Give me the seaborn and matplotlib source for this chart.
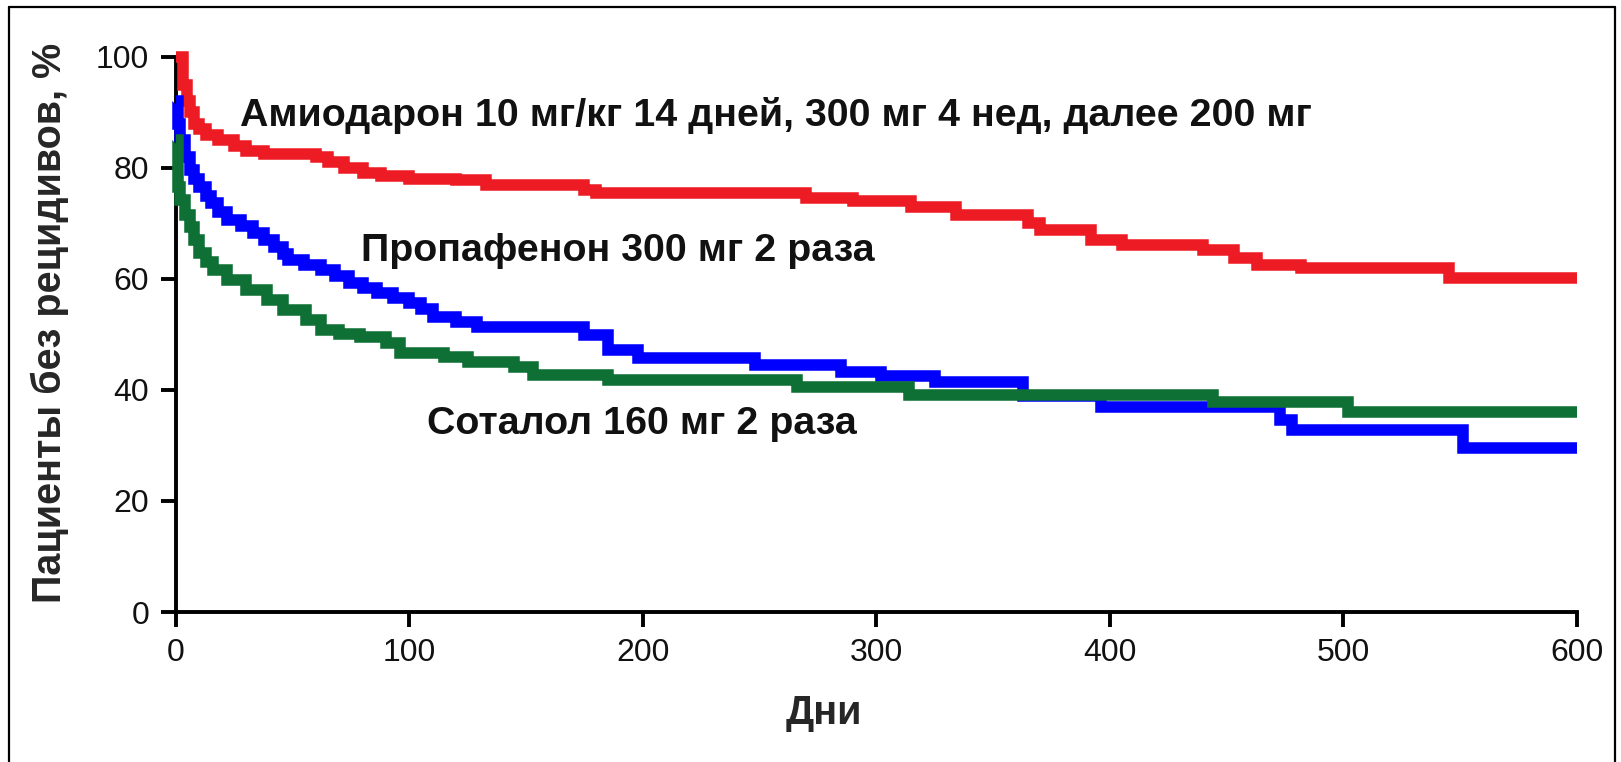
import numpy as np
import pandas as pd
import matplotlib
matplotlib.use("Agg")
import matplotlib.pyplot as plt
import seaborn as sns
from matplotlib.lines import Line2D

# ---- data ----
amio_days = [0, 3, 5, 6, 8, 10, 13, 18, 25, 30, 38, 60, 65, 72, 80, 88, 100, 120, 133,
             175, 180, 270, 290, 315, 334, 365, 370, 392, 405, 440, 453, 463, 482, 545, 600]
amio_vals = [100, 95, 92, 90, 88, 87, 86, 85, 84, 83, 82.5, 82, 81, 80, 79, 78.5, 78, 77.8, 77,
             76, 75.5, 74.5, 74, 73, 71.5, 70, 68.8, 67, 66.1, 65.2, 63.8, 62.5, 62, 60.2, 60.2]

prop_days = [0, 1, 2, 4, 6, 8, 10, 13, 15, 18, 22, 28, 33, 38, 42, 46, 48, 55, 62, 68, 74,
             80, 86, 93, 100, 105, 110, 120, 129, 175, 185, 198, 248, 285, 302, 325, 363,
             396, 473, 478, 551, 600]
prop_vals = [92, 88, 85, 82, 79.6, 78, 76.6, 75, 73.7, 72, 70.6, 69.5, 68.3, 67, 65.8, 64.5,
             63.4, 62.5, 61.6, 60.5, 59.3, 58.3, 57.5, 56.5, 55.7, 54.5, 53.2, 52.3, 51.4,
             49.9, 47.2, 45.8, 44.5, 43.2, 42.5, 41.4, 39, 36.9, 34.6, 32.8, 29.5, 29.5]

sota_days = [0, 1, 2, 4, 6, 8, 10, 13, 16, 22, 30, 39, 46, 56, 62, 70, 79, 90, 96, 115, 125,
             145, 153, 185, 266, 314, 444, 502, 600]
sota_vals = [85, 76.6, 74.2, 71.5, 69.4, 67, 64.7, 63, 61.6, 59.8, 58, 56.2, 54.4, 52.6, 50.8,
             50, 49.5, 48.5, 46.7, 45.9, 45, 44.1, 42.7, 41.8, 40.5, 39.1, 37.8, 36, 36]

group_names = ["Амиодарон", "Пропафенон", "Соталол"]
labels = ["Амиодарон 10 мг/кг 14 дней, 300 мг 4 нед, далее 200 мг",
          "Пропафенон 300 мг 2 раза",
          "Соталол 160 мг 2 раза"]
x_ticks = [0, 100, 200, 300, 400, 500, 600]
y_ticks = [0, 20, 40, 60, 80, 100]
x_title = "Дни"
y_title = "Пациенты без рецидивов, %"

colors = {"Амиодарон": "#ED1C24", "Пропафенон": "#0000FF", "Соталол": "#0E7034"}

df = pd.concat([
    pd.DataFrame({"day": amio_days, "val": amio_vals, "grp": group_names[0]}),
    pd.DataFrame({"day": prop_days, "val": prop_vals, "grp": group_names[1]}),
    pd.DataFrame({"day": sota_days, "val": sota_vals, "grp": group_names[2]}),
], ignore_index=True)

sns.set_style("ticks")
plt.rcParams["font.family"] = ["Liberation Sans", "DejaVu Sans"]

W, H = 1621, 762
fig = plt.figure(figsize=(W / 100, H / 100), dpi=100)
fig.patch.set_facecolor("white")

x0, x1 = 175.7, 1577.0
y0, y1 = 612.0, 56.9
ax = fig.add_axes([x0 / W, 1 - y0 / H, (x1 - x0) / W, (y0 - y1) / H])

sns.lineplot(data=df, x="day", y="val", hue="grp", palette=colors, estimator=None,
             sort=False, drawstyle="steps-post", linewidth=8.3, clip_on=False,
             legend=False, ax=ax, solid_joinstyle="miter", solid_capstyle="butt",
             zorder=5)

ax.set_xlim(0, 600)
ax.set_ylim(0, 100)
ax.set_xticks(x_ticks)
ax.set_yticks(y_ticks)
ax.tick_params(axis="both", length=11, width=2.8, labelsize=23, pad=8,
               color="black", labelcolor="#111111")
for s in ["top", "right"]:
    ax.spines[s].set_visible(False)
for s in ["left", "bottom"]:
    ax.spines[s].set_linewidth(2.8)
    ax.spines[s].set_color("black")
    ax.spines[s].set_zorder(2)
ax.set_facecolor("white")

ax.set_xlabel(x_title, fontsize=28.5, fontweight="bold")
ax.xaxis.set_label_coords((824 - x0) / (x1 - x0), (y0 - 713) / (y0 - y1))
ax.xaxis.label.set_va("center")
ax.set_ylabel(y_title, fontsize=28.5, fontweight="bold")
ax.yaxis.set_label_coords((50 - x0) / (x1 - x0), (y0 - 323) / (y0 - y1))
ax.yaxis.label.set_va("center")

ann_pos = [(27.5, 89.4), (79.4, 65.0), (107.7, 33.9)]
for txt, (dx, dy) in zip(labels, ann_pos):
    ax.text(dx, dy, txt, fontsize=28.4, fontweight="bold", ha="left", va="center",
            color="#111111", zorder=6)

# outer frame
fl, ft, fr = 9 / W, 1 - 7 / H, 1615 / W
for xs, ys in [([fl, fl], [0, ft]), ([fl, fr], [ft, ft]), ([fr, fr], [ft, 0])]:
    fig.add_artist(Line2D(xs, ys, transform=fig.transFigure, color="black", linewidth=1.6))

fig.savefig("out.png", dpi=100, facecolor="white")
